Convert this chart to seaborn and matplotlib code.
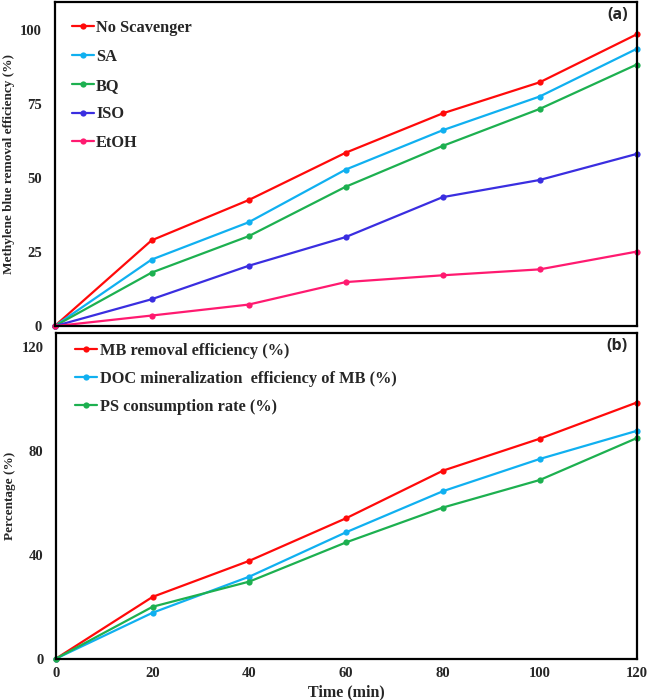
import matplotlib
matplotlib.use("Agg")
import matplotlib.pyplot as plt
import numpy as np
import pandas as pd
import seaborn as sbn

# ---- data ----
time_min = [0, 20, 40, 60, 80, 100, 120]

no_scavenger = [0, 29.0, 42.6, 58.6, 71.9, 82.4, 98.6]
sa = [0, 22.5, 35.1, 52.9, 66.2, 77.6, 93.7]
bq = [0, 18.1, 30.4, 47.1, 60.9, 73.4, 88.4]
iso = [0, 9.1, 20.4, 30.1, 43.6, 49.4, 58.2]
etoh = [0, 3.6, 7.3, 14.9, 17.2, 19.2, 25.2]

mb_removal = [0, 23.8, 37.7, 54.1, 72.4, 84.7, 98.6]
doc_mineral = [0, 17.7, 31.6, 48.7, 64.5, 76.9, 87.7]
ps_consumption = [0, 20.0, 29.7, 44.8, 58.2, 68.8, 84.9]

labels_a = ["No Scavenger", "SA", "BQ", "ISO", "EtOH"]
series_a = [no_scavenger, sa, bq, iso, etoh]
colors_a = ["#FF0A0A", "#10B0F0", "#1DB050", "#3A2EE0", "#FF1A70"]

labels_b = ["MB removal efficiency (%)",
            "DOC mineralization  efficiency of MB (%)",
            "PS consumption rate (%)"]
series_b = [mb_removal, doc_mineral, ps_consumption]
colors_b = ["#FF0A0A", "#10B0F0", "#1DB050"]

yticks_a = [0, 25, 50, 75, 100]
yticks_b = [0, 40, 80, 120]
xticks = [0, 20, 40, 60, 80, 100, 120]


def long_frame(labels, series):
    rows = []
    for lab, vals in zip(labels, series):
        for t, v in zip(time_min, vals):
            rows.append({"time": t, "value": v, "series": lab})
    return pd.DataFrame(rows)


sbn.set_style("white")
plt.rcParams["font.family"] = ["Liberation Serif", "DejaVu Serif"]
plt.rcParams["font.weight"] = "bold"

fig = plt.figure(figsize=(6.49, 7.0), dpi=100)
ax_a = fig.add_axes([0.084, 0.534, 0.897, 0.463])
ax_b = fig.add_axes([0.086, 0.059, 0.895, 0.465])


def draw_panel(ax, labels, series, colors, yticks, ylim, tag, spacing, anchor):
    df = long_frame(labels, series)
    sbn.lineplot(data=df, x="time", y="value", hue="series", hue_order=labels,
                 palette=colors, marker="o", markersize=4.5, markeredgewidth=0,
                 linewidth=1.6, ax=ax, clip_on=False)
    ax.set_xlim(0, 120)
    ax.set_ylim(*ylim)
    ax.set_yticks(yticks)
    ax.set_yticklabels([str(v) for v in yticks], fontsize=10.5, fontweight="bold")
    ax.tick_params(axis="both", length=0, pad=9)
    for sp in ax.spines.values():
        sp.set_color("black")
        sp.set_linewidth(1.6)
    ax.text(0.985, 0.985, tag, transform=ax.transAxes, ha="right", va="top",
            fontsize=11.5, fontweight="bold", family="Open Sans")
    leg = ax.legend(loc="upper left", frameon=False, fontsize=11.8,
                    handlelength=1.35, handletextpad=0.15, labelspacing=spacing,
                    borderaxespad=0.5, bbox_to_anchor=anchor)
    for t in leg.get_texts():
        t.set_fontweight("bold")


draw_panel(ax_a, labels_a, series_a, colors_a, yticks_a, (0, 109.5), "(a)",
           0.78, (0.004, 0.99))
ax_a.set_xticks(xticks)
ax_a.set_xticklabels([])
ax_a.set_xlabel("")
ax_a.set_ylabel("Methylene blue removal efficiency (%)", fontsize=9.5,
                fontweight="bold", labelpad=4)

draw_panel(ax_b, labels_b, series_b, colors_b, yticks_b, (0, 125.3), "(b)",
           0.72, (0.008, 1.015))
ax_b.set_xticks(xticks)
ax_b.set_xticklabels([str(v) for v in xticks], fontsize=10.5, fontweight="bold")
ax_b.tick_params(axis="x", pad=6)
ax_b.set_xlabel("Time (min)", fontsize=11.5, fontweight="bold", labelpad=3)
ax_b.set_ylabel("Percentage (%)", fontsize=9.5, fontweight="bold", labelpad=4)

fig.savefig("out.png", dpi=100)
